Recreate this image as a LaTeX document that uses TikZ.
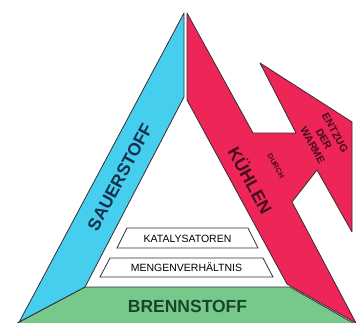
\documentclass[tikz,border=0pt]{standalone}
\usepackage{fontspec}
\setmainfont{Liberation Sans}
\usepackage{xcolor}
\usetikzlibrary{positioning}

\definecolor{oxyblue}{RGB}{70,206,238}
\definecolor{heatred}{RGB}{238,38,88}
\definecolor{fuelgreen}{RGB}{118,201,138}
\definecolor{edgegray}{RGB}{55,45,50}
\definecolor{oxytext}{RGB}{20,48,78}
\definecolor{heattext}{RGB}{70,12,30}
\definecolor{fueltext}{RGB}{25,70,40}

\begin{document}
\begin{tikzpicture}[
    x=1pt, y=-1pt,
    band/.style={draw=edgegray, line width=0.8pt, line join=round},
    oxy/.style={band, fill=oxyblue},
    heat/.style={band, fill=heatred},
    fuel/.style={band, fill=fuelgreen},
    tag/.style={draw=edgegray, line width=0.8pt, fill=white},
    big/.style={font=\fontsize{17.5}{18}\selectfont\bfseries, inner sep=0pt},
    small/.style={font=\fontsize{10.5}{12}\selectfont, inner sep=0pt},
    note/.style={text=heattext, rotate=-61.3, inner sep=0pt},
]
    \useasboundingbox (0,0) rectangle (356,322);
    \clip (0,0) rectangle (356,322);

    % the three sides
    \filldraw[fuel] (85,287) -- (290,287) -- (362,328) -- (8,328) -- cycle;
    \filldraw[oxy] (184,13) -- (184,97) -- (85,287) -- (19,322) -- (16,328) -- cycle;
    \filldraw[heat] (187,13) -- (253,133) -- (296,133) -- (260,63) -- (352,122)
        -- (352,232) -- (317,170) -- (292,202) -- (356,323) -- (287,284)
        -- (187,100) -- cycle;

    % inner conditions
    \draw[tag] (127,228) -- (248,228) -- (258,248) -- (117,248) -- cycle;
    \draw[tag] (110,258) -- (263,258) -- (273,277) -- (100,277) -- cycle;
    \node[small] (kat) at (187.5,238.5) {KATALYSATOREN};
    \node[small] (mng) at (186.5,267.5) {MENGENVERHÄLTNIS};

    % labels
    \node[big, text=oxytext, rotate=61.9] (sau) at (120,177) {SAUERSTOFF};
    \node[big, text=heattext, rotate=-61.3] (kue) at (251,180) {KÜHLEN};
    \node[big, text=fueltext] (bre) at (187.5,306) {BRENNSTOFF};
    \node[note, font=\fontsize{7.5}{8}\selectfont\bfseries] (dur) at (276,166) {DURCH};
    \node[note, font=\fontsize{10.5}{12.8}\selectfont\bfseries, align=center]
        (ent) at (324,139) {ENTZUG\\DER\\WARME};
\end{tikzpicture}
\end{document}
